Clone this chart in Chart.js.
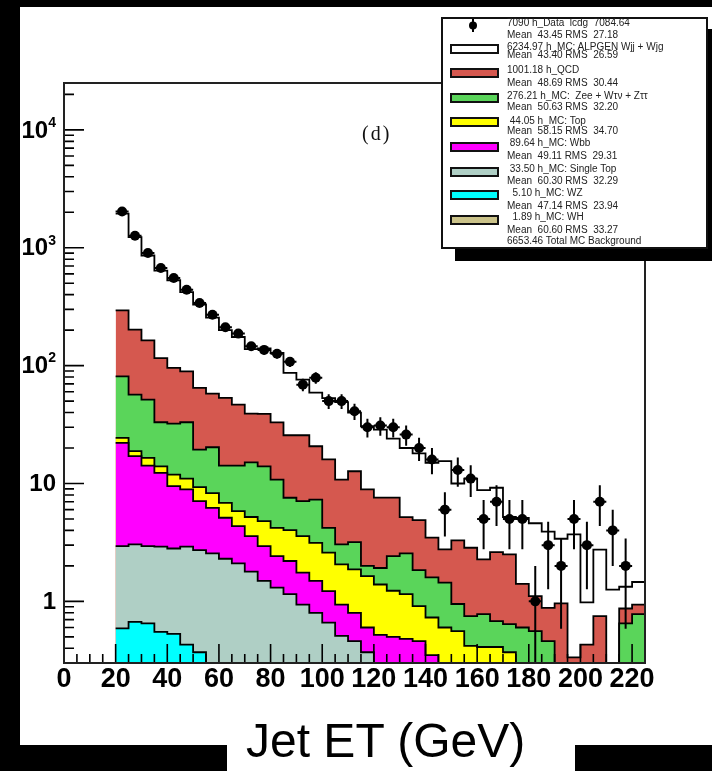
<!DOCTYPE html>
<html>
<head>
<meta charset="utf-8">
<title>Jet ET</title>
<script src="https://cdn.jsdelivr.net/npm/chart.js@4.4.1/dist/chart.umd.min.js"></script>
<style>
  html, body { margin:0; padding:0; width:712px; height:771px; background:#000; overflow:hidden; }
  #panel { position:absolute; left:20px; top:7px; width:692px; height:738px; background:#fff; }
  #xbox { position:absolute; left:227px; top:700px; width:348px; height:71px; background:#fff; }
  #xtitle { position:absolute; left:246px; top:717px; font:48px "Liberation Sans", Arial, sans-serif; line-height:48px; color:#000; white-space:nowrap; }
  #chart { position:absolute; left:0; top:0; }
  #tag { position:absolute; left:362px; top:123px; font:20px "Liberation Serif", "DejaVu Serif", serif; line-height:20px; letter-spacing:2px; color:#111; }
  #legShadow { position:absolute; left:455px; top:29px; width:267px; height:232px; background:#000; }
  #legend { position:absolute; left:441px; top:17px; width:267px; height:232px; box-sizing:border-box; background:#fff; border:2px solid #111; }
  .lt { position:absolute; left:64px; font:10px "Liberation Sans", Arial, sans-serif; line-height:12px; height:12px; color:#222; white-space:pre; }
  .ls { position:absolute; left:7px; width:49px; height:10px; box-sizing:border-box; border:2px solid #111; }
</style>
</head>
<body>
<div id="panel"></div>
<div id="xbox"></div>
<canvas id="chart" width="712" height="771"></canvas>
<div id="tag">(d)</div>
<div id="xtitle">Jet ET (GeV)</div>
<div id="legShadow"></div>
<div id="legend"></div>
<script>
// ---------- data (bins of Jet ET, GeV) ----------
const binEdges = [20,25,30,35,40,45,50,55,60,65,70,75,80,85,90,95,100,105,110,115,120,125,130,135,140,145,150,155,160,165,170,175,180,185,190,195,200,205,210,215,220,225];

const dataCounts = [2030,1264,902,673,554,441,340,270,212,187, 146,136,126,108,69,79,50,50,41,30, 31,30,26,20,16,6,13,11,5,7, 5,5,1,3,2,5,3,7,4,2,0];

const mcW = [1656,1028,696,524,434.4,330.5,265.3,197.1,146.8,128.3, 98.8,101,95,61.3,50.3,38.3,37,38.2,27.3,21.7, 21.1,16.4,14.82,13.11,11.53,12.74,6.71,8.15,6.53,6.58, 2.7,3.69,3.49,3.02,2.44,3.37,0.55,2.0,1.11,0.46,0.52];
const mcQCD = [212.8,145.2,112.5,82.9,63.4,56.4,45.3,37.6,39,32.5, 24.1,25,22.2,18.1,18.6,13.4,11.8,7.76,9.52,6.9, 5.68,5.18,2.63,3.05,1.87,1.32,2.34,2.1,1.49,1.94, 1.86,0.81,0.55,0.42,0.68,0.085,0.23,0.55,0,0.22,0.16];
const mcZ = [56.8,38,35,19.1,20.3,22.1,10.1,12,7.34,8.37, 9.9,9.2,6.59,3.55,3.5,4.16,1.62,0.98,1.31,0.36, 0.53,1.19,1.4,0.93,0.87,0.84,0.39,0.33,0.37,0.27, 0.27,0.35,0.36,0.29,0.14,0.14,0.1,0.11,0.07,0.57,0.72];
const mcTop = [2.3,1.7,2.3,1.7,2.4,2.1,2.22,2.08,1.74,1.48, 1.62,1.86,1.79,1.82,1.83,1.65,1.37,1.12,1.07,1.04, 0.87,0.73,0.67,0.45,0.38,0.35,0.36,0.25,0.27,0.29, 0.27,0.16,0.12,0.1,0.08,0.06,0.05,0.05,0.04,0.04,0.03];
const mcWbb = [19.16,14.06,11.26,9.39,6.69,5.99,4.36,3.67,2.82,2.25, 1.79,1.45,1.11,1.05,0.81,0.69,0.56,0.43,0.34,0.23, 0.24,0.25,0.26,0.26,0.18,0.1,0.07,0.05,0.04,0.03, 0.02,0.02,0.02,0.02,0.01,0.01,0.01,0.01,0.01,0.01,0.01];
const mcSingleTop = [2.35,2.37,2.29,2.36,2.28,2.48,2.35,2.27,2.06,1.9, 1.61,1.34,1.18,1.04,0.84,0.71,0.58,0.45,0.41,0.32, 0.24,0.22,0.19,0.17,0.15,0.13,0.11,0.1,0.1,0.09, 0.08,0.07,0.06,0.05,0.05,0.04,0.04,0.03,0.03,0.03,0.02];
const mcWZ = [0.56,0.63,0.6,0.5,0.48,0.38,0.32,0.23,0.2,0.16, 0.14,0.11,0.1,0.08,0.07,0.06,0.06,0.04,0.03,0.03, 0.02,0.02,0.02,0.02,0.01,0.01,0.01,0.01,0,0, 0,0,0,0,0,0,0,0,0,0,0];
const mcWH = [0.03,0.04,0.05,0.05,0.05,0.05,0.05,0.05,0.04,0.04, 0.04,0.04,0.03,0.03,0.03,0.03,0.02,0.02,0.02,0.02, 0.02,0.01,0.01,0.01,0.01,0.01,0.01,0.01,0,0, 0,0,0,0,0,0,0,0,0,0,0];

const xTickValues = [0,20,40,60,80,100,120,140,160,180,200,220];
const yDecadeValues = [1,10,100,1000,10000];

// legend texts (legend order: data, W, QCD, Z, Top, Wbb, Single top, WZ, WH)
const legendNameLines = ['7090 h_Data  lcdg  7084.64','6234.97 h_MC: ALPGEN Wjj + Wjg','1001.18 h_QCD','276.21 h_MC:  Zee + W\u03C4\u03BD + Z\u03C4\u03C4',' 44.05 h_MC: Top',' 89.64 h_MC: Wbb',' 33.50 h_MC: Single Top','  5.10 h_MC: WZ','  1.89 h_MC: WH'];
const legendStatLines = ['Mean  43.45 RMS  27.18','Mean  43.40 RMS  26.59','Mean  48.69 RMS  30.44','Mean  50.63 RMS  32.20','Mean  58.15 RMS  34.70','Mean  49.11 RMS  29.31','Mean  60.30 RMS  32.29','Mean  47.14 RMS  23.94','Mean  60.60 RMS  33.27'];
const legendTotalLine = '6653.46 Total MC Background';

// ---------- styles ----------
const mcSeries = [ // top of stack first (legend order)
  {values: mcW, color:'#ffffff'},
  {values: mcQCD, color:'#d5584f'},
  {values: mcZ, color:'#5ad55a'},
  {values: mcTop, color:'#ffff00'},
  {values: mcWbb, color:'#ff00ff'},
  {values: mcSingleTop, color:'#afcfc5'},
  {values: mcWZ, color:'#00ffff'},
  {values: mcWH, color:'#cbc38a'}
];

// ---------- legend (HTML) ----------
const LEG_X = 443, LEG_Y = 19; // inner origin of legend box
const nameY = [22.7,46.7,70,96,121,143,169,193,217];
const statY = [35,55,83,107,131,156,181,206,230];
const symY = [49,73,98,122,147,172,195,220];
const leg = document.getElementById('legend');
function addText(txt, yc) {
  const d = document.createElement('div'); d.className = 'lt';
  d.style.top = (yc - LEG_Y - 6) + 'px'; d.textContent = txt; leg.appendChild(d);
}
legendNameLines.forEach((t,i) => addText(t, nameY[i]));
legendStatLines.forEach((t,i) => addText(t, statY[i]));
addText(legendTotalLine, 241);
mcSeries.forEach((s,i) => {
  const b = document.createElement('div'); b.className = 'ls';
  b.style.top = (symY[i] - LEG_Y - 5) + 'px'; b.style.background = s.color; leg.appendChild(b);
});
leg.insertAdjacentHTML('beforeend',
  '<svg style="position:absolute;left:22px;top:0px" width="16" height="16"><line x1="8" y1="0" x2="8" y2="13" stroke="#000" stroke-width="2"/><circle cx="8" cy="6.5" r="4" fill="#000"/></svg>');

// ---------- build stacked step outlines ----------
const nb = dataCounts.length;
const stackBottomUp = mcSeries.slice().reverse();
let running = new Array(nb).fill(0);
const cumulative = stackBottomUp.map(s => { running = running.map((r,i) => r + s.values[i]); return running.slice(); });

function stepPoints(tops) {
  const pts = [{x: binEdges[0], y: 0}];
  for (let i = 0; i < nb; i++) pts.push({x: binEdges[i], y: tops[i]});
  pts.push({x: binEdges[nb], y: tops[nb-1]});
  pts.push({x: binEdges[nb], y: 0});
  return pts;
}

const datasets = stackBottomUp.map((s, k) => ({
  data: stepPoints(cumulative[k]),
  stepped: 'before',
  fill: 'start',
  backgroundColor: s.color,
  borderColor: '#000',
  borderWidth: 1.8,
  pointRadius: 0,
  tension: 0
}));

const dataPoints = [];
dataCounts.forEach((n,i) => { if (n > 0) dataPoints.push({x: (binEdges[i] + binEdges[i+1]) / 2, y: n}); });
datasets.push({
  data: dataPoints, showLine: false, fill: false, order: -1,
  pointRadius: 5, pointStyle: 'circle', pointBackgroundColor: '#000', pointBorderColor: '#000', pointBorderWidth: 0
});

const FONT = '"Liberation Sans", Arial, Helvetica, sans-serif';

const rootStyle = {
  id: 'rootStyle',
  afterDatasetsDraw(chart) {
    const {ctx, chartArea: a, scales: {x, y}} = chart;
    ctx.save();
    ctx.beginPath(); ctx.rect(a.left, a.top, a.right - a.left, a.bottom - a.top); ctx.clip();
    ctx.strokeStyle = '#000'; ctx.lineWidth = 2;
    dataCounts.forEach((n, i) => {
      if (n <= 0) return;
      const cx = x.getPixelForValue((binEdges[i] + binEdges[i+1]) / 2);
      const e = Math.sqrt(n);
      const yt = y.getPixelForValue(n + e);
      const yb = (n - e) > 0 ? y.getPixelForValue(n - e) : a.bottom;
      const yc = y.getPixelForValue(n);
      ctx.beginPath();
      ctx.moveTo(cx, yt); ctx.lineTo(cx, yb);
      ctx.moveTo(cx - 6.5, yc); ctx.lineTo(cx + 6.5, yc);
      ctx.stroke();
    });
    ctx.restore();
  },
  afterDraw(chart) {
    const {ctx, chartArea: a, scales: {x, y}} = chart;
    ctx.save();
    ctx.strokeStyle = '#000'; ctx.lineWidth = 1.6;
    ctx.beginPath();
    for (let v = 0; v <= x.max; v += 5) {
      const px = x.getPixelForValue(v);
      const len = v % 20 === 0 ? 19 : 9;
      ctx.moveTo(px, a.bottom); ctx.lineTo(px, a.bottom - len);
    }
    for (let e = -1; e <= 4; e++) {
      for (let m = 1; m <= 9; m++) {
        const v = m * Math.pow(10, e);
        if (v < y.min || v > y.max) continue;
        const py = y.getPixelForValue(v);
        ctx.moveTo(a.left, py); ctx.lineTo(a.left + (m === 1 ? 20 : 10), py);
      }
    }
    ctx.stroke();
    ctx.lineWidth = 2; ctx.strokeStyle = '#222';
    ctx.strokeRect(a.left, a.top, a.right - a.left, a.bottom - a.top);
    // y labels
    ctx.fillStyle = '#000'; ctx.textBaseline = 'middle'; ctx.textAlign = 'right';
    const right = 56;
    yDecadeValues.forEach(v => {
      const py = y.getPixelForValue(v) + 1;
      const exp = Math.round(Math.log10(v));
      if (exp <= 1) {
        ctx.font = 'bold 24px ' + FONT;
        ctx.fillText(String(v), right, py);
      } else {
        ctx.font = 'bold 14px ' + FONT;
        const sw = ctx.measureText(String(exp)).width;
        ctx.fillText(String(exp), right, py - 8);
        ctx.font = 'bold 24px ' + FONT;
        ctx.fillText('10', right - sw, py);
      }
    });
    ctx.restore();
  }
};

new Chart(document.getElementById('chart').getContext('2d'), {
  type: 'line',
  data: { datasets },
  options: {
    responsive: false,
    animation: false,
    devicePixelRatio: 1,
    layout: { padding: { top: 83, right: 67, left: 0, bottom: 0 } },
    plugins: { legend: { display: false }, tooltip: { enabled: false } },
    scales: {
      x: {
        type: 'linear', min: 0, max: 225,
        grid: { display: false, drawTicks: false },
        border: { display: false },
        afterBuildTicks: s => { s.ticks = xTickValues.map(v => ({value: v})); },
        afterFit: s => { s.height = 108; },
        ticks: { autoSkip: false, maxRotation: 0, minRotation: 0, padding: 0, color: '#000',
                 font: { family: FONT, size: 27, weight: 'bold' }, callback: v => String(v) }
      },
      y: {
        type: 'logarithmic', min: 0.3, max: 25000,
        grid: { display: false, drawTicks: false },
        border: { display: false },
        ticks: { display: false },
        afterFit: s => { s.width = 64; }
      }
    }
  },
  plugins: [rootStyle]
});
</script>
</body>
</html>
